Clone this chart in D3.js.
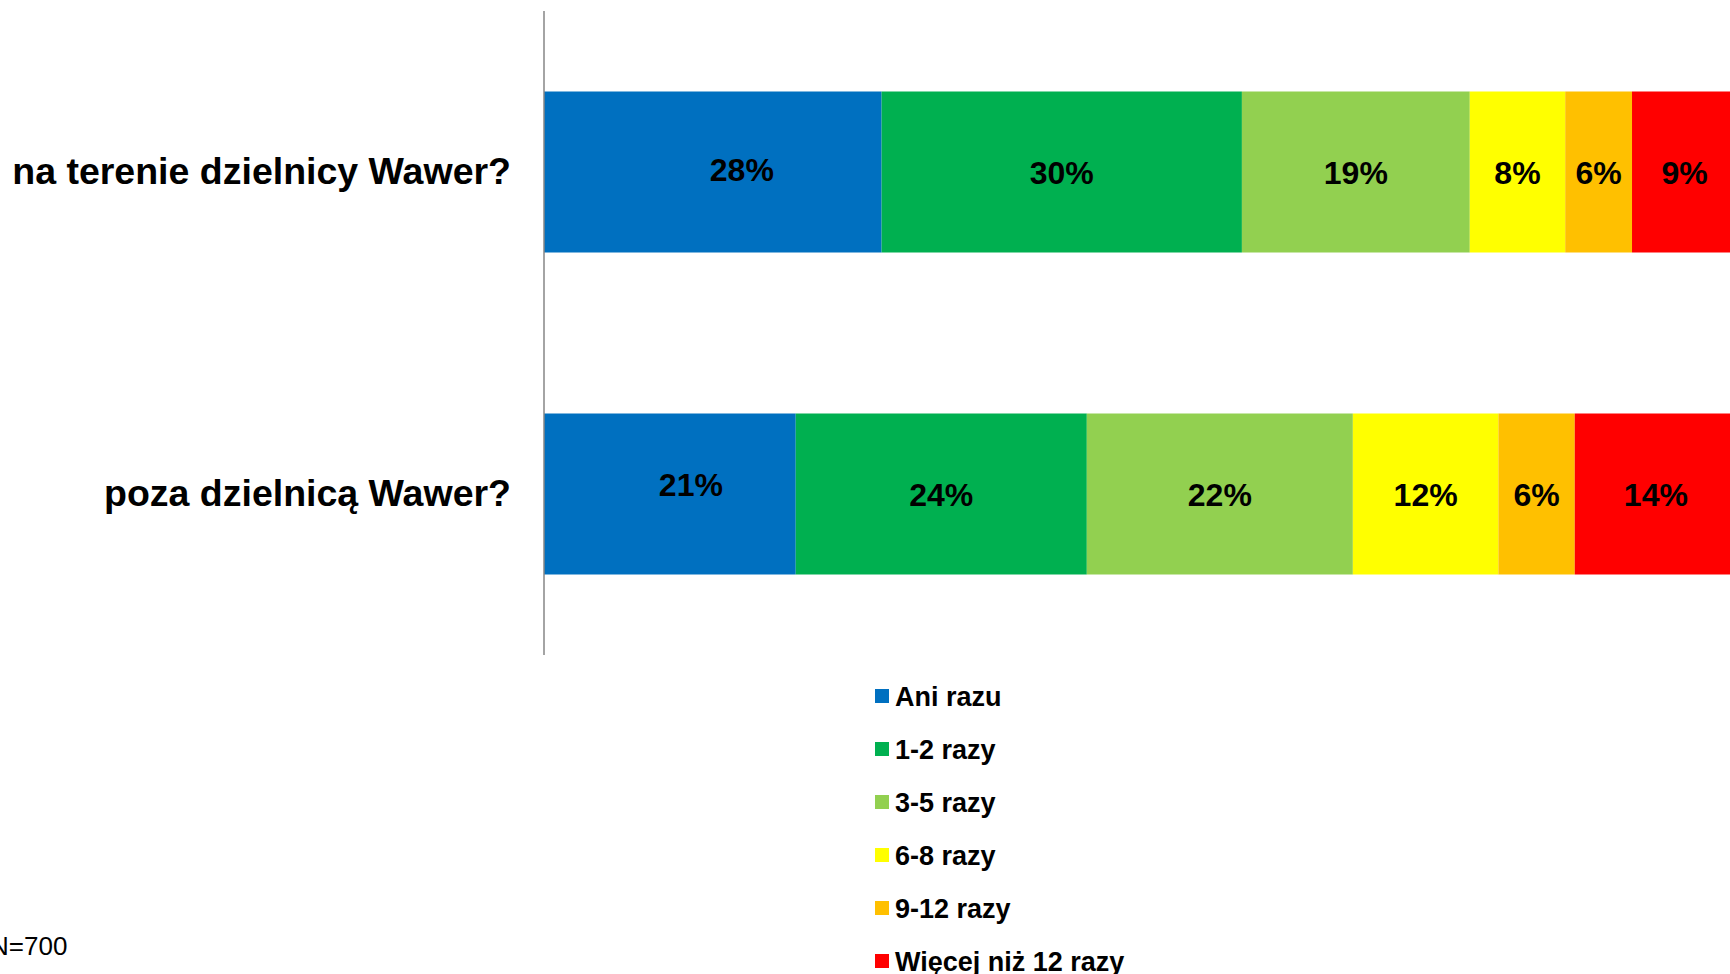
<!DOCTYPE html>
<html><head><meta charset="utf-8">
<script src="https://cdn.jsdelivr.net/npm/d3@7"></script>
<style>
html,body{margin:0;padding:0;background:#fff;overflow:hidden}
svg{display:block}
text{font-family:"Liberation Sans",Arial,sans-serif}
</style></head>
<body>
<svg id="chart" width="1730" height="974"></svg>
<script>
const categories = ["na terenie dzielnicy Wawer?", "poza dzielnicą Wawer?"];
const seriesNames = ["Ani razu", "1-2 razy", "3-5 razy", "6-8 razy", "9-12 razy", "Więcej niż 12 razy"];
const valuesWewnatrz = [28.3, 30.2, 19.1, 8.0, 5.6, 8.8];
const valuesPoza = [21.1, 24.4, 22.3, 12.2, 6.4, 13.6];
const seriesColors = ["#0070C0", "#00B050", "#92D050", "#FFFF00", "#FFC000", "#FF0000"];
const noteText = "N=700";

const data = [valuesWewnatrz, valuesPoza];
// manual label nudges from the original (first series labels moved)
const labelNudge = [[{dx:29,dy:-3},{dx:0,dy:0},{dx:0,dy:0},{dx:0,dy:0},{dx:0,dy:0},{dx:0,dy:0}],
                    [{dx:21,dy:-10},{dx:0,dy:0},{dx:0,dy:0},{dx:0,dy:0},{dx:0,dy:0},{dx:0,dy:0}]];

const svg = d3.select("#chart");
const x = d3.scaleLinear().domain([0, 100]).range([544, 1737]);
const y = d3.scaleBand().domain(categories).range([11, 655]).paddingInner(0.5).paddingOuter(0.25);
const color = d3.scaleOrdinal().domain(seriesNames).range(seriesColors);

const rows = categories.map((c, i) => {
  let acc = 0;
  return data[i].map((v, j) => {
    const d = {cat: c, row: i, s: seriesNames[j], j, v, x0: acc, x1: acc + v};
    acc += v;
    return d;
  });
});

const g = svg.append("g");
rows.forEach(r => {
  g.selectAll(null).data(r).enter().append("rect")
    .attr("x", d => x(d.x0))
    .attr("y", d => y(d.cat))
    .attr("width", d => x(d.x1) - x(d.x0))
    .attr("height", y.bandwidth())
    .attr("fill", d => color(d.s));
  g.selectAll(null).data(r).enter().append("text")
    .attr("x", d => (x(d.x0) + x(d.x1)) / 2 + labelNudge[d.row][d.j].dx)
    .attr("y", d => y(d.cat) + y.bandwidth() / 2 + labelNudge[d.row][d.j].dy)
    .attr("text-anchor", "middle")
    .attr("dy", "0.36em")
    .attr("font-size", 32)
    .attr("font-weight", "bold")
    .attr("fill", "#000")
    .text(d => Math.round(d.v) + "%");
});

// category axis
const axis = d3.axisLeft(y).tickSize(0).tickPadding(33);
const ax = svg.append("g").attr("transform", `translate(${x(0)},0)`).call(axis);
ax.select(".domain").attr("stroke", "#868686").attr("stroke-width", 1.5).attr("d", `M0,11V655`);
ax.selectAll(".tick text")
  .attr("font-size", 37.5)
  .attr("font-weight", "bold")
  .attr("fill", "#000")
  .attr("font-family", "'Liberation Sans', Arial, sans-serif");

// legend
const leg = svg.append("g").attr("transform", "translate(875,696)");
const li = leg.selectAll("g").data(seriesNames).enter().append("g")
  .attr("transform", (d, i) => `translate(0,${i * 53})`);
li.append("rect").attr("x", 0).attr("y", -7).attr("width", 14).attr("height", 14).attr("fill", d => color(d));
li.append("text").attr("x", 20).attr("y", 0).attr("dy", "0.36em")
  .attr("font-size", 27).attr("font-weight", "bold").attr("fill", "#000").text(d => d);

svg.append("text").attr("x", -10).attr("y", 955).attr("font-size", 26).attr("fill", "#000").text(noteText);
</script>
</body></html>
